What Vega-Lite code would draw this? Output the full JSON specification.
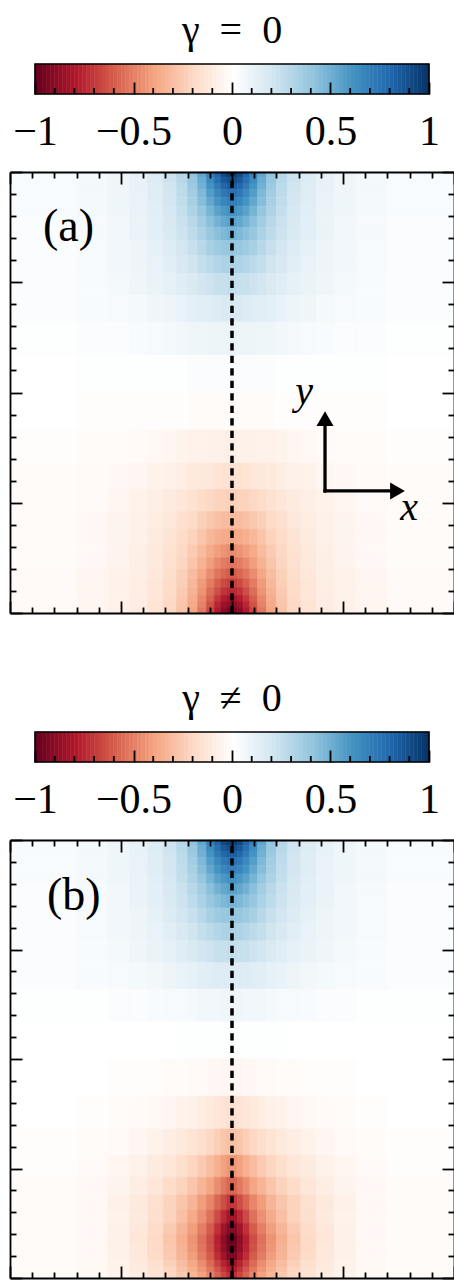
{
"$schema":"https://vega.github.io/schema/vega-lite/v6.json",
"autosize":{"type":"pad"},
"padding":{"left":9,"top":11,"right":0,"bottom":0},
"background":"white",
"config":{"view":{"stroke":null},"title":{"font":"Liberation Serif","fontSize":40,"fontWeight":"normal","color":"black","anchor":"middle"},"axis":{"grid":false}},
"datasets":{
"xs":[{"i":0,"x":-2,"x2":-1.4},{"i":1,"x":-1.4,"x2":-1.12},{"i":2,"x":-1.12,"x2":-0.92},{"i":3,"x":-0.92,"x2":-0.76},{"i":4,"x":-0.76,"x2":-0.62},{"i":5,"x":-0.62,"x2":-0.5},{"i":6,"x":-0.5,"x2":-0.4},{"i":7,"x":-0.4,"x2":-0.31},{"i":8,"x":-0.31,"x2":-0.23},{"i":9,"x":-0.23,"x2":-0.16},{"i":10,"x":-0.16,"x2":-0.1},{"i":11,"x":-0.1,"x2":-0.05},{"i":12,"x":-0.05,"x2":0},{"i":13,"x":0,"x2":0.05},{"i":14,"x":0.05,"x2":0.1},{"i":15,"x":0.1,"x2":0.16},{"i":16,"x":0.16,"x2":0.23},{"i":17,"x":0.23,"x2":0.31},{"i":18,"x":0.31,"x2":0.4},{"i":19,"x":0.4,"x2":0.5},{"i":20,"x":0.5,"x2":0.62},{"i":21,"x":0.62,"x2":0.76},{"i":22,"x":0.76,"x2":0.92},{"i":23,"x":0.92,"x2":1.12},{"i":24,"x":1.12,"x2":1.4},{"i":25,"x":1.4,"x2":2}],
"ys":[{"j":0,"y":1.95,"y2":2},{"j":1,"y":1.9,"y2":1.95},{"j":2,"y":1.84,"y2":1.9},{"j":3,"y":1.77,"y2":1.84},{"j":4,"y":1.69,"y2":1.77},{"j":5,"y":1.6,"y2":1.69},{"j":6,"y":1.5,"y2":1.6},{"j":7,"y":1.38,"y2":1.5},{"j":8,"y":1.24,"y2":1.38},{"j":9,"y":1.08,"y2":1.24},{"j":10,"y":0.88,"y2":1.08},{"j":11,"y":0.64,"y2":0.88},{"j":12,"y":0.34,"y2":0.64},{"j":13,"y":0,"y2":0.34},{"j":14,"y":-0.34,"y2":0},{"j":15,"y":-0.64,"y2":-0.34},{"j":16,"y":-0.88,"y2":-0.64},{"j":17,"y":-1.08,"y2":-0.88},{"j":18,"y":-1.24,"y2":-1.08},{"j":19,"y":-1.38,"y2":-1.24},{"j":20,"y":-1.5,"y2":-1.38},{"j":21,"y":-1.6,"y2":-1.5},{"j":22,"y":-1.69,"y2":-1.6},{"j":23,"y":-1.77,"y2":-1.69},{"j":24,"y":-1.84,"y2":-1.77},{"j":25,"y":-1.9,"y2":-1.84},{"j":26,"y":-1.95,"y2":-1.9},{"j":27,"y":-2,"y2":-1.95}],
"mt":[{"t":-0.9},{"t":-0.8},{"t":-0.7},{"t":-0.6},{"t":-0.4},{"t":-0.3},{"t":-0.2},{"t":-0.1},{"t":0.1},{"t":0.2},{"t":0.3},{"t":0.4},{"t":0.6},{"t":0.7},{"t":0.8},{"t":0.9}],
"cbar":[{"c":-1,"d":-0.98},{"c":-0.98,"d":-0.96},{"c":-0.96,"d":-0.94},{"c":-0.94,"d":-0.92},{"c":-0.92,"d":-0.9},{"c":-0.9,"d":-0.88},{"c":-0.88,"d":-0.86},{"c":-0.86,"d":-0.84},{"c":-0.84,"d":-0.82},{"c":-0.82,"d":-0.8},{"c":-0.8,"d":-0.78},{"c":-0.78,"d":-0.76},{"c":-0.76,"d":-0.74},{"c":-0.74,"d":-0.72},{"c":-0.72,"d":-0.7},{"c":-0.7,"d":-0.68},{"c":-0.68,"d":-0.66},{"c":-0.66,"d":-0.64},{"c":-0.64,"d":-0.62},{"c":-0.62,"d":-0.6},{"c":-0.6,"d":-0.58},{"c":-0.58,"d":-0.56},{"c":-0.56,"d":-0.54},{"c":-0.54,"d":-0.52},{"c":-0.52,"d":-0.5},{"c":-0.5,"d":-0.48},{"c":-0.48,"d":-0.46},{"c":-0.46,"d":-0.44},{"c":-0.44,"d":-0.42},{"c":-0.42,"d":-0.4},{"c":-0.4,"d":-0.38},{"c":-0.38,"d":-0.36},{"c":-0.36,"d":-0.34},{"c":-0.34,"d":-0.32},{"c":-0.32,"d":-0.3},{"c":-0.3,"d":-0.28},{"c":-0.28,"d":-0.26},{"c":-0.26,"d":-0.24},{"c":-0.24,"d":-0.22},{"c":-0.22,"d":-0.2},{"c":-0.2,"d":-0.18},{"c":-0.18,"d":-0.16},{"c":-0.16,"d":-0.14},{"c":-0.14,"d":-0.12},{"c":-0.12,"d":-0.1},{"c":-0.1,"d":-0.08},{"c":-0.08,"d":-0.06},{"c":-0.06,"d":-0.04},{"c":-0.04,"d":-0.02},{"c":-0.02,"d":0},{"c":0,"d":0.02},{"c":0.02,"d":0.04},{"c":0.04,"d":0.06},{"c":0.06,"d":0.08},{"c":0.08,"d":0.1},{"c":0.1,"d":0.12},{"c":0.12,"d":0.14},{"c":0.14,"d":0.16},{"c":0.16,"d":0.18},{"c":0.18,"d":0.2},{"c":0.2,"d":0.22},{"c":0.22,"d":0.24},{"c":0.24,"d":0.26},{"c":0.26,"d":0.28},{"c":0.28,"d":0.3},{"c":0.3,"d":0.32},{"c":0.32,"d":0.34},{"c":0.34,"d":0.36},{"c":0.36,"d":0.38},{"c":0.38,"d":0.4},{"c":0.4,"d":0.42},{"c":0.42,"d":0.44},{"c":0.44,"d":0.46},{"c":0.46,"d":0.48},{"c":0.48,"d":0.5},{"c":0.5,"d":0.52},{"c":0.52,"d":0.54},{"c":0.54,"d":0.56},{"c":0.56,"d":0.58},{"c":0.58,"d":0.6},{"c":0.6,"d":0.62},{"c":0.62,"d":0.64},{"c":0.64,"d":0.66},{"c":0.66,"d":0.68},{"c":0.68,"d":0.7},{"c":0.7,"d":0.72},{"c":0.72,"d":0.74},{"c":0.74,"d":0.76},{"c":0.76,"d":0.78},{"c":0.78,"d":0.8},{"c":0.8,"d":0.82},{"c":0.82,"d":0.84},{"c":0.84,"d":0.86},{"c":0.86,"d":0.88},{"c":0.88,"d":0.9},{"c":0.9,"d":0.92},{"c":0.92,"d":0.94},{"c":0.94,"d":0.96},{"c":0.96,"d":0.98},{"c":0.98,"d":1}],
"hA":[
{"i":0,"j":0,"v":0.03},{"i":1,"j":0,"v":0.05},{"i":2,"j":0,"v":0.08},{"i":3,"j":0,"v":0.11},{"i":4,"j":0,"v":0.15},{"i":5,"j":0,"v":0.21},{"i":6,"j":0,"v":0.29},{"i":7,"j":0,"v":0.4},{"i":8,"j":0,"v":0.53},{"i":9,"j":0,"v":0.67},{"i":10,"j":0,"v":0.8},{"i":11,"j":0,"v":0.9},{"i":12,"j":0,"v":0.95},{"i":13,"j":0,"v":0.95},{"i":14,"j":0,"v":0.9},{"i":15,"j":0,"v":0.8},{"i":16,"j":0,"v":0.67},{"i":17,"j":0,"v":0.53},{"i":18,"j":0,"v":0.4},{"i":19,"j":0,"v":0.29},{"i":20,"j":0,"v":0.21},{"i":21,"j":0,"v":0.15},{"i":22,"j":0,"v":0.11},{"i":23,"j":0,"v":0.08},{"i":24,"j":0,"v":0.05},{"i":25,"j":0,"v":0.03},
{"i":0,"j":1,"v":0.03},{"i":1,"j":1,"v":0.05},{"i":2,"j":1,"v":0.07},{"i":3,"j":1,"v":0.1},{"i":4,"j":1,"v":0.15},{"i":5,"j":1,"v":0.21},{"i":6,"j":1,"v":0.28},{"i":7,"j":1,"v":0.38},{"i":8,"j":1,"v":0.5},{"i":9,"j":1,"v":0.64},{"i":10,"j":1,"v":0.76},{"i":11,"j":1,"v":0.85},{"i":12,"j":1,"v":0.89},{"i":13,"j":1,"v":0.89},{"i":14,"j":1,"v":0.85},{"i":15,"j":1,"v":0.76},{"i":16,"j":1,"v":0.64},{"i":17,"j":1,"v":0.5},{"i":18,"j":1,"v":0.38},{"i":19,"j":1,"v":0.28},{"i":20,"j":1,"v":0.21},{"i":21,"j":1,"v":0.15},{"i":22,"j":1,"v":0.1},{"i":23,"j":1,"v":0.07},{"i":24,"j":1,"v":0.05},{"i":25,"j":1,"v":0.03},
{"i":0,"j":2,"v":0.03},{"i":1,"j":2,"v":0.05},{"i":2,"j":2,"v":0.07},{"i":3,"j":2,"v":0.1},{"i":4,"j":2,"v":0.14},{"i":5,"j":2,"v":0.2},{"i":6,"j":2,"v":0.27},{"i":7,"j":2,"v":0.37},{"i":8,"j":2,"v":0.48},{"i":9,"j":2,"v":0.6},{"i":10,"j":2,"v":0.71},{"i":11,"j":2,"v":0.79},{"i":12,"j":2,"v":0.83},{"i":13,"j":2,"v":0.83},{"i":14,"j":2,"v":0.79},{"i":15,"j":2,"v":0.71},{"i":16,"j":2,"v":0.6},{"i":17,"j":2,"v":0.48},{"i":18,"j":2,"v":0.37},{"i":19,"j":2,"v":0.27},{"i":20,"j":2,"v":0.2},{"i":21,"j":2,"v":0.14},{"i":22,"j":2,"v":0.1},{"i":23,"j":2,"v":0.07},{"i":24,"j":2,"v":0.05},{"i":25,"j":2,"v":0.03},
{"i":0,"j":3,"v":0.03},{"i":1,"j":3,"v":0.05},{"i":2,"j":3,"v":0.07},{"i":3,"j":3,"v":0.1},{"i":4,"j":3,"v":0.14},{"i":5,"j":3,"v":0.19},{"i":6,"j":3,"v":0.26},{"i":7,"j":3,"v":0.35},{"i":8,"j":3,"v":0.45},{"i":9,"j":3,"v":0.56},{"i":10,"j":3,"v":0.65},{"i":11,"j":3,"v":0.72},{"i":12,"j":3,"v":0.75},{"i":13,"j":3,"v":0.75},{"i":14,"j":3,"v":0.72},{"i":15,"j":3,"v":0.65},{"i":16,"j":3,"v":0.56},{"i":17,"j":3,"v":0.45},{"i":18,"j":3,"v":0.35},{"i":19,"j":3,"v":0.26},{"i":20,"j":3,"v":0.19},{"i":21,"j":3,"v":0.14},{"i":22,"j":3,"v":0.1},{"i":23,"j":3,"v":0.07},{"i":24,"j":3,"v":0.05},{"i":25,"j":3,"v":0.03},
{"i":0,"j":4,"v":0.03},{"i":1,"j":4,"v":0.05},{"i":2,"j":4,"v":0.07},{"i":3,"j":4,"v":0.1},{"i":4,"j":4,"v":0.14},{"i":5,"j":4,"v":0.19},{"i":6,"j":4,"v":0.25},{"i":7,"j":4,"v":0.33},{"i":8,"j":4,"v":0.43},{"i":9,"j":4,"v":0.52},{"i":10,"j":4,"v":0.6},{"i":11,"j":4,"v":0.66},{"i":12,"j":4,"v":0.69},{"i":13,"j":4,"v":0.69},{"i":14,"j":4,"v":0.66},{"i":15,"j":4,"v":0.6},{"i":16,"j":4,"v":0.52},{"i":17,"j":4,"v":0.43},{"i":18,"j":4,"v":0.33},{"i":19,"j":4,"v":0.25},{"i":20,"j":4,"v":0.19},{"i":21,"j":4,"v":0.14},{"i":22,"j":4,"v":0.1},{"i":23,"j":4,"v":0.07},{"i":24,"j":4,"v":0.05},{"i":25,"j":4,"v":0.03},
{"i":0,"j":5,"v":0.03},{"i":1,"j":5,"v":0.05},{"i":2,"j":5,"v":0.07},{"i":3,"j":5,"v":0.09},{"i":4,"j":5,"v":0.13},{"i":5,"j":5,"v":0.18},{"i":6,"j":5,"v":0.24},{"i":7,"j":5,"v":0.31},{"i":8,"j":5,"v":0.39},{"i":9,"j":5,"v":0.47},{"i":10,"j":5,"v":0.54},{"i":11,"j":5,"v":0.58},{"i":12,"j":5,"v":0.61},{"i":13,"j":5,"v":0.61},{"i":14,"j":5,"v":0.58},{"i":15,"j":5,"v":0.54},{"i":16,"j":5,"v":0.47},{"i":17,"j":5,"v":0.39},{"i":18,"j":5,"v":0.31},{"i":19,"j":5,"v":0.24},{"i":20,"j":5,"v":0.18},{"i":21,"j":5,"v":0.13},{"i":22,"j":5,"v":0.09},{"i":23,"j":5,"v":0.07},{"i":24,"j":5,"v":0.05},{"i":25,"j":5,"v":0.03},
{"i":0,"j":6,"v":0.02},{"i":1,"j":6,"v":0.04},{"i":2,"j":6,"v":0.06},{"i":3,"j":6,"v":0.09},{"i":4,"j":6,"v":0.12},{"i":5,"j":6,"v":0.17},{"i":6,"j":6,"v":0.22},{"i":7,"j":6,"v":0.28},{"i":8,"j":6,"v":0.35},{"i":9,"j":6,"v":0.42},{"i":10,"j":6,"v":0.48},{"i":11,"j":6,"v":0.52},{"i":12,"j":6,"v":0.54},{"i":13,"j":6,"v":0.54},{"i":14,"j":6,"v":0.52},{"i":15,"j":6,"v":0.48},{"i":16,"j":6,"v":0.42},{"i":17,"j":6,"v":0.35},{"i":18,"j":6,"v":0.28},{"i":19,"j":6,"v":0.22},{"i":20,"j":6,"v":0.17},{"i":21,"j":6,"v":0.12},{"i":22,"j":6,"v":0.09},{"i":23,"j":6,"v":0.06},{"i":24,"j":6,"v":0.04},{"i":25,"j":6,"v":0.02},
{"i":0,"j":7,"v":0.02},{"i":1,"j":7,"v":0.04},{"i":2,"j":7,"v":0.06},{"i":3,"j":7,"v":0.09},{"i":4,"j":7,"v":0.12},{"i":5,"j":7,"v":0.16},{"i":6,"j":7,"v":0.21},{"i":7,"j":7,"v":0.26},{"i":8,"j":7,"v":0.32},{"i":9,"j":7,"v":0.38},{"i":10,"j":7,"v":0.42},{"i":11,"j":7,"v":0.45},{"i":12,"j":7,"v":0.47},{"i":13,"j":7,"v":0.47},{"i":14,"j":7,"v":0.45},{"i":15,"j":7,"v":0.42},{"i":16,"j":7,"v":0.38},{"i":17,"j":7,"v":0.32},{"i":18,"j":7,"v":0.26},{"i":19,"j":7,"v":0.21},{"i":20,"j":7,"v":0.16},{"i":21,"j":7,"v":0.12},{"i":22,"j":7,"v":0.09},{"i":23,"j":7,"v":0.06},{"i":24,"j":7,"v":0.04},{"i":25,"j":7,"v":0.02},
{"i":0,"j":8,"v":0.02},{"i":1,"j":8,"v":0.04},{"i":2,"j":8,"v":0.06},{"i":3,"j":8,"v":0.08},{"i":4,"j":8,"v":0.11},{"i":5,"j":8,"v":0.15},{"i":6,"j":8,"v":0.19},{"i":7,"j":8,"v":0.23},{"i":8,"j":8,"v":0.28},{"i":9,"j":8,"v":0.33},{"i":10,"j":8,"v":0.36},{"i":11,"j":8,"v":0.38},{"i":12,"j":8,"v":0.39},{"i":13,"j":8,"v":0.39},{"i":14,"j":8,"v":0.38},{"i":15,"j":8,"v":0.36},{"i":16,"j":8,"v":0.33},{"i":17,"j":8,"v":0.28},{"i":18,"j":8,"v":0.23},{"i":19,"j":8,"v":0.19},{"i":20,"j":8,"v":0.15},{"i":21,"j":8,"v":0.11},{"i":22,"j":8,"v":0.08},{"i":23,"j":8,"v":0.06},{"i":24,"j":8,"v":0.04},{"i":25,"j":8,"v":0.02},
{"i":0,"j":9,"v":0.02},{"i":1,"j":9,"v":0.04},{"i":2,"j":9,"v":0.06},{"i":3,"j":9,"v":0.08},{"i":4,"j":9,"v":0.1},{"i":5,"j":9,"v":0.13},{"i":6,"j":9,"v":0.17},{"i":7,"j":9,"v":0.2},{"i":8,"j":9,"v":0.24},{"i":9,"j":9,"v":0.27},{"i":10,"j":9,"v":0.3},{"i":11,"j":9,"v":0.31},{"i":12,"j":9,"v":0.32},{"i":13,"j":9,"v":0.32},{"i":14,"j":9,"v":0.31},{"i":15,"j":9,"v":0.3},{"i":16,"j":9,"v":0.27},{"i":17,"j":9,"v":0.24},{"i":18,"j":9,"v":0.2},{"i":19,"j":9,"v":0.17},{"i":20,"j":9,"v":0.13},{"i":21,"j":9,"v":0.1},{"i":22,"j":9,"v":0.08},{"i":23,"j":9,"v":0.06},{"i":24,"j":9,"v":0.04},{"i":25,"j":9,"v":0.02},
{"i":0,"j":10,"v":0.02},{"i":1,"j":10,"v":0.03},{"i":2,"j":10,"v":0.05},{"i":3,"j":10,"v":0.07},{"i":4,"j":10,"v":0.09},{"i":5,"j":10,"v":0.11},{"i":6,"j":10,"v":0.14},{"i":7,"j":10,"v":0.16},{"i":8,"j":10,"v":0.19},{"i":9,"j":10,"v":0.21},{"i":10,"j":10,"v":0.23},{"i":11,"j":10,"v":0.23},{"i":12,"j":10,"v":0.24},{"i":13,"j":10,"v":0.24},{"i":14,"j":10,"v":0.23},{"i":15,"j":10,"v":0.23},{"i":16,"j":10,"v":0.21},{"i":17,"j":10,"v":0.19},{"i":18,"j":10,"v":0.16},{"i":19,"j":10,"v":0.14},{"i":20,"j":10,"v":0.11},{"i":21,"j":10,"v":0.09},{"i":22,"j":10,"v":0.07},{"i":23,"j":10,"v":0.05},{"i":24,"j":10,"v":0.03},{"i":25,"j":10,"v":0.02},
{"i":0,"j":11,"v":0.02},{"i":1,"j":11,"v":0.03},{"i":2,"j":11,"v":0.04},{"i":3,"j":11,"v":0.05},{"i":4,"j":11,"v":0.07},{"i":5,"j":11,"v":0.08},{"i":6,"j":11,"v":0.1},{"i":7,"j":11,"v":0.12},{"i":8,"j":11,"v":0.13},{"i":9,"j":11,"v":0.14},{"i":10,"j":11,"v":0.15},{"i":11,"j":11,"v":0.16},{"i":12,"j":11,"v":0.16},{"i":13,"j":11,"v":0.16},{"i":14,"j":11,"v":0.16},{"i":15,"j":11,"v":0.15},{"i":16,"j":11,"v":0.14},{"i":17,"j":11,"v":0.13},{"i":18,"j":11,"v":0.12},{"i":19,"j":11,"v":0.1},{"i":20,"j":11,"v":0.08},{"i":21,"j":11,"v":0.07},{"i":22,"j":11,"v":0.05},{"i":23,"j":11,"v":0.04},{"i":24,"j":11,"v":0.03},{"i":25,"j":11,"v":0.02},
{"i":0,"j":12,"v":0.01},{"i":1,"j":12,"v":0.02},{"i":2,"j":12,"v":0.02},{"i":3,"j":12,"v":0.03},{"i":4,"j":12,"v":0.04},{"i":5,"j":12,"v":0.05},{"i":6,"j":12,"v":0.06},{"i":7,"j":12,"v":0.07},{"i":8,"j":12,"v":0.07},{"i":9,"j":12,"v":0.08},{"i":10,"j":12,"v":0.08},{"i":11,"j":12,"v":0.08},{"i":12,"j":12,"v":0.09},{"i":13,"j":12,"v":0.09},{"i":14,"j":12,"v":0.08},{"i":15,"j":12,"v":0.08},{"i":16,"j":12,"v":0.08},{"i":17,"j":12,"v":0.07},{"i":18,"j":12,"v":0.07},{"i":19,"j":12,"v":0.06},{"i":20,"j":12,"v":0.05},{"i":21,"j":12,"v":0.04},{"i":22,"j":12,"v":0.03},{"i":23,"j":12,"v":0.02},{"i":24,"j":12,"v":0.02},{"i":25,"j":12,"v":0.01},
{"i":0,"j":13,"v":0},{"i":1,"j":13,"v":0.01},{"i":2,"j":13,"v":0.01},{"i":3,"j":13,"v":0.01},{"i":4,"j":13,"v":0.01},{"i":5,"j":13,"v":0.01},{"i":6,"j":13,"v":0.01},{"i":7,"j":13,"v":0.02},{"i":8,"j":13,"v":0.02},{"i":9,"j":13,"v":0.02},{"i":10,"j":13,"v":0.02},{"i":11,"j":13,"v":0.02},{"i":12,"j":13,"v":0.02},{"i":13,"j":13,"v":0.02},{"i":14,"j":13,"v":0.02},{"i":15,"j":13,"v":0.02},{"i":16,"j":13,"v":0.02},{"i":17,"j":13,"v":0.02},{"i":18,"j":13,"v":0.02},{"i":19,"j":13,"v":0.01},{"i":20,"j":13,"v":0.01},{"i":21,"j":13,"v":0.01},{"i":22,"j":13,"v":0.01},{"i":23,"j":13,"v":0.01},{"i":24,"j":13,"v":0.01},{"i":25,"j":13,"v":0},
{"i":0,"j":14,"v":0},{"i":1,"j":14,"v":-0.01},{"i":2,"j":14,"v":-0.01},{"i":3,"j":14,"v":-0.01},{"i":4,"j":14,"v":-0.01},{"i":5,"j":14,"v":-0.01},{"i":6,"j":14,"v":-0.01},{"i":7,"j":14,"v":-0.02},{"i":8,"j":14,"v":-0.02},{"i":9,"j":14,"v":-0.02},{"i":10,"j":14,"v":-0.02},{"i":11,"j":14,"v":-0.02},{"i":12,"j":14,"v":-0.02},{"i":13,"j":14,"v":-0.02},{"i":14,"j":14,"v":-0.02},{"i":15,"j":14,"v":-0.02},{"i":16,"j":14,"v":-0.02},{"i":17,"j":14,"v":-0.02},{"i":18,"j":14,"v":-0.02},{"i":19,"j":14,"v":-0.01},{"i":20,"j":14,"v":-0.01},{"i":21,"j":14,"v":-0.01},{"i":22,"j":14,"v":-0.01},{"i":23,"j":14,"v":-0.01},{"i":24,"j":14,"v":-0.01},{"i":25,"j":14,"v":0},
{"i":0,"j":15,"v":-0.01},{"i":1,"j":15,"v":-0.02},{"i":2,"j":15,"v":-0.02},{"i":3,"j":15,"v":-0.03},{"i":4,"j":15,"v":-0.04},{"i":5,"j":15,"v":-0.05},{"i":6,"j":15,"v":-0.06},{"i":7,"j":15,"v":-0.07},{"i":8,"j":15,"v":-0.07},{"i":9,"j":15,"v":-0.08},{"i":10,"j":15,"v":-0.08},{"i":11,"j":15,"v":-0.08},{"i":12,"j":15,"v":-0.09},{"i":13,"j":15,"v":-0.09},{"i":14,"j":15,"v":-0.08},{"i":15,"j":15,"v":-0.08},{"i":16,"j":15,"v":-0.08},{"i":17,"j":15,"v":-0.07},{"i":18,"j":15,"v":-0.07},{"i":19,"j":15,"v":-0.06},{"i":20,"j":15,"v":-0.05},{"i":21,"j":15,"v":-0.04},{"i":22,"j":15,"v":-0.03},{"i":23,"j":15,"v":-0.02},{"i":24,"j":15,"v":-0.02},{"i":25,"j":15,"v":-0.01},
{"i":0,"j":16,"v":-0.02},{"i":1,"j":16,"v":-0.03},{"i":2,"j":16,"v":-0.04},{"i":3,"j":16,"v":-0.05},{"i":4,"j":16,"v":-0.07},{"i":5,"j":16,"v":-0.08},{"i":6,"j":16,"v":-0.1},{"i":7,"j":16,"v":-0.12},{"i":8,"j":16,"v":-0.13},{"i":9,"j":16,"v":-0.14},{"i":10,"j":16,"v":-0.15},{"i":11,"j":16,"v":-0.16},{"i":12,"j":16,"v":-0.16},{"i":13,"j":16,"v":-0.16},{"i":14,"j":16,"v":-0.16},{"i":15,"j":16,"v":-0.15},{"i":16,"j":16,"v":-0.14},{"i":17,"j":16,"v":-0.13},{"i":18,"j":16,"v":-0.12},{"i":19,"j":16,"v":-0.1},{"i":20,"j":16,"v":-0.08},{"i":21,"j":16,"v":-0.07},{"i":22,"j":16,"v":-0.05},{"i":23,"j":16,"v":-0.04},{"i":24,"j":16,"v":-0.03},{"i":25,"j":16,"v":-0.02},
{"i":0,"j":17,"v":-0.02},{"i":1,"j":17,"v":-0.03},{"i":2,"j":17,"v":-0.05},{"i":3,"j":17,"v":-0.07},{"i":4,"j":17,"v":-0.09},{"i":5,"j":17,"v":-0.11},{"i":6,"j":17,"v":-0.14},{"i":7,"j":17,"v":-0.16},{"i":8,"j":17,"v":-0.19},{"i":9,"j":17,"v":-0.21},{"i":10,"j":17,"v":-0.23},{"i":11,"j":17,"v":-0.23},{"i":12,"j":17,"v":-0.24},{"i":13,"j":17,"v":-0.24},{"i":14,"j":17,"v":-0.23},{"i":15,"j":17,"v":-0.23},{"i":16,"j":17,"v":-0.21},{"i":17,"j":17,"v":-0.19},{"i":18,"j":17,"v":-0.16},{"i":19,"j":17,"v":-0.14},{"i":20,"j":17,"v":-0.11},{"i":21,"j":17,"v":-0.09},{"i":22,"j":17,"v":-0.07},{"i":23,"j":17,"v":-0.05},{"i":24,"j":17,"v":-0.03},{"i":25,"j":17,"v":-0.02},
{"i":0,"j":18,"v":-0.02},{"i":1,"j":18,"v":-0.04},{"i":2,"j":18,"v":-0.06},{"i":3,"j":18,"v":-0.08},{"i":4,"j":18,"v":-0.1},{"i":5,"j":18,"v":-0.13},{"i":6,"j":18,"v":-0.17},{"i":7,"j":18,"v":-0.2},{"i":8,"j":18,"v":-0.24},{"i":9,"j":18,"v":-0.27},{"i":10,"j":18,"v":-0.3},{"i":11,"j":18,"v":-0.31},{"i":12,"j":18,"v":-0.32},{"i":13,"j":18,"v":-0.32},{"i":14,"j":18,"v":-0.31},{"i":15,"j":18,"v":-0.3},{"i":16,"j":18,"v":-0.27},{"i":17,"j":18,"v":-0.24},{"i":18,"j":18,"v":-0.2},{"i":19,"j":18,"v":-0.17},{"i":20,"j":18,"v":-0.13},{"i":21,"j":18,"v":-0.1},{"i":22,"j":18,"v":-0.08},{"i":23,"j":18,"v":-0.06},{"i":24,"j":18,"v":-0.04},{"i":25,"j":18,"v":-0.02},
{"i":0,"j":19,"v":-0.02},{"i":1,"j":19,"v":-0.04},{"i":2,"j":19,"v":-0.06},{"i":3,"j":19,"v":-0.08},{"i":4,"j":19,"v":-0.11},{"i":5,"j":19,"v":-0.15},{"i":6,"j":19,"v":-0.19},{"i":7,"j":19,"v":-0.23},{"i":8,"j":19,"v":-0.28},{"i":9,"j":19,"v":-0.33},{"i":10,"j":19,"v":-0.36},{"i":11,"j":19,"v":-0.38},{"i":12,"j":19,"v":-0.39},{"i":13,"j":19,"v":-0.39},{"i":14,"j":19,"v":-0.38},{"i":15,"j":19,"v":-0.36},{"i":16,"j":19,"v":-0.33},{"i":17,"j":19,"v":-0.28},{"i":18,"j":19,"v":-0.23},{"i":19,"j":19,"v":-0.19},{"i":20,"j":19,"v":-0.15},{"i":21,"j":19,"v":-0.11},{"i":22,"j":19,"v":-0.08},{"i":23,"j":19,"v":-0.06},{"i":24,"j":19,"v":-0.04},{"i":25,"j":19,"v":-0.02},
{"i":0,"j":20,"v":-0.02},{"i":1,"j":20,"v":-0.04},{"i":2,"j":20,"v":-0.06},{"i":3,"j":20,"v":-0.09},{"i":4,"j":20,"v":-0.12},{"i":5,"j":20,"v":-0.16},{"i":6,"j":20,"v":-0.21},{"i":7,"j":20,"v":-0.26},{"i":8,"j":20,"v":-0.32},{"i":9,"j":20,"v":-0.38},{"i":10,"j":20,"v":-0.42},{"i":11,"j":20,"v":-0.45},{"i":12,"j":20,"v":-0.47},{"i":13,"j":20,"v":-0.47},{"i":14,"j":20,"v":-0.45},{"i":15,"j":20,"v":-0.42},{"i":16,"j":20,"v":-0.38},{"i":17,"j":20,"v":-0.32},{"i":18,"j":20,"v":-0.26},{"i":19,"j":20,"v":-0.21},{"i":20,"j":20,"v":-0.16},{"i":21,"j":20,"v":-0.12},{"i":22,"j":20,"v":-0.09},{"i":23,"j":20,"v":-0.06},{"i":24,"j":20,"v":-0.04},{"i":25,"j":20,"v":-0.02},
{"i":0,"j":21,"v":-0.02},{"i":1,"j":21,"v":-0.04},{"i":2,"j":21,"v":-0.06},{"i":3,"j":21,"v":-0.09},{"i":4,"j":21,"v":-0.12},{"i":5,"j":21,"v":-0.17},{"i":6,"j":21,"v":-0.22},{"i":7,"j":21,"v":-0.28},{"i":8,"j":21,"v":-0.35},{"i":9,"j":21,"v":-0.42},{"i":10,"j":21,"v":-0.48},{"i":11,"j":21,"v":-0.52},{"i":12,"j":21,"v":-0.54},{"i":13,"j":21,"v":-0.54},{"i":14,"j":21,"v":-0.52},{"i":15,"j":21,"v":-0.48},{"i":16,"j":21,"v":-0.42},{"i":17,"j":21,"v":-0.35},{"i":18,"j":21,"v":-0.28},{"i":19,"j":21,"v":-0.22},{"i":20,"j":21,"v":-0.17},{"i":21,"j":21,"v":-0.12},{"i":22,"j":21,"v":-0.09},{"i":23,"j":21,"v":-0.06},{"i":24,"j":21,"v":-0.04},{"i":25,"j":21,"v":-0.02},
{"i":0,"j":22,"v":-0.03},{"i":1,"j":22,"v":-0.05},{"i":2,"j":22,"v":-0.07},{"i":3,"j":22,"v":-0.09},{"i":4,"j":22,"v":-0.13},{"i":5,"j":22,"v":-0.18},{"i":6,"j":22,"v":-0.24},{"i":7,"j":22,"v":-0.31},{"i":8,"j":22,"v":-0.39},{"i":9,"j":22,"v":-0.47},{"i":10,"j":22,"v":-0.54},{"i":11,"j":22,"v":-0.58},{"i":12,"j":22,"v":-0.61},{"i":13,"j":22,"v":-0.61},{"i":14,"j":22,"v":-0.58},{"i":15,"j":22,"v":-0.54},{"i":16,"j":22,"v":-0.47},{"i":17,"j":22,"v":-0.39},{"i":18,"j":22,"v":-0.31},{"i":19,"j":22,"v":-0.24},{"i":20,"j":22,"v":-0.18},{"i":21,"j":22,"v":-0.13},{"i":22,"j":22,"v":-0.09},{"i":23,"j":22,"v":-0.07},{"i":24,"j":22,"v":-0.05},{"i":25,"j":22,"v":-0.03},
{"i":0,"j":23,"v":-0.03},{"i":1,"j":23,"v":-0.05},{"i":2,"j":23,"v":-0.07},{"i":3,"j":23,"v":-0.1},{"i":4,"j":23,"v":-0.14},{"i":5,"j":23,"v":-0.19},{"i":6,"j":23,"v":-0.25},{"i":7,"j":23,"v":-0.33},{"i":8,"j":23,"v":-0.43},{"i":9,"j":23,"v":-0.52},{"i":10,"j":23,"v":-0.6},{"i":11,"j":23,"v":-0.66},{"i":12,"j":23,"v":-0.69},{"i":13,"j":23,"v":-0.69},{"i":14,"j":23,"v":-0.66},{"i":15,"j":23,"v":-0.6},{"i":16,"j":23,"v":-0.52},{"i":17,"j":23,"v":-0.43},{"i":18,"j":23,"v":-0.33},{"i":19,"j":23,"v":-0.25},{"i":20,"j":23,"v":-0.19},{"i":21,"j":23,"v":-0.14},{"i":22,"j":23,"v":-0.1},{"i":23,"j":23,"v":-0.07},{"i":24,"j":23,"v":-0.05},{"i":25,"j":23,"v":-0.03},
{"i":0,"j":24,"v":-0.03},{"i":1,"j":24,"v":-0.05},{"i":2,"j":24,"v":-0.07},{"i":3,"j":24,"v":-0.1},{"i":4,"j":24,"v":-0.14},{"i":5,"j":24,"v":-0.19},{"i":6,"j":24,"v":-0.26},{"i":7,"j":24,"v":-0.35},{"i":8,"j":24,"v":-0.45},{"i":9,"j":24,"v":-0.56},{"i":10,"j":24,"v":-0.65},{"i":11,"j":24,"v":-0.72},{"i":12,"j":24,"v":-0.75},{"i":13,"j":24,"v":-0.75},{"i":14,"j":24,"v":-0.72},{"i":15,"j":24,"v":-0.65},{"i":16,"j":24,"v":-0.56},{"i":17,"j":24,"v":-0.45},{"i":18,"j":24,"v":-0.35},{"i":19,"j":24,"v":-0.26},{"i":20,"j":24,"v":-0.19},{"i":21,"j":24,"v":-0.14},{"i":22,"j":24,"v":-0.1},{"i":23,"j":24,"v":-0.07},{"i":24,"j":24,"v":-0.05},{"i":25,"j":24,"v":-0.03},
{"i":0,"j":25,"v":-0.03},{"i":1,"j":25,"v":-0.05},{"i":2,"j":25,"v":-0.07},{"i":3,"j":25,"v":-0.1},{"i":4,"j":25,"v":-0.14},{"i":5,"j":25,"v":-0.2},{"i":6,"j":25,"v":-0.27},{"i":7,"j":25,"v":-0.37},{"i":8,"j":25,"v":-0.48},{"i":9,"j":25,"v":-0.6},{"i":10,"j":25,"v":-0.71},{"i":11,"j":25,"v":-0.79},{"i":12,"j":25,"v":-0.83},{"i":13,"j":25,"v":-0.83},{"i":14,"j":25,"v":-0.79},{"i":15,"j":25,"v":-0.71},{"i":16,"j":25,"v":-0.6},{"i":17,"j":25,"v":-0.48},{"i":18,"j":25,"v":-0.37},{"i":19,"j":25,"v":-0.27},{"i":20,"j":25,"v":-0.2},{"i":21,"j":25,"v":-0.14},{"i":22,"j":25,"v":-0.1},{"i":23,"j":25,"v":-0.07},{"i":24,"j":25,"v":-0.05},{"i":25,"j":25,"v":-0.03},
{"i":0,"j":26,"v":-0.03},{"i":1,"j":26,"v":-0.05},{"i":2,"j":26,"v":-0.07},{"i":3,"j":26,"v":-0.1},{"i":4,"j":26,"v":-0.15},{"i":5,"j":26,"v":-0.21},{"i":6,"j":26,"v":-0.28},{"i":7,"j":26,"v":-0.38},{"i":8,"j":26,"v":-0.5},{"i":9,"j":26,"v":-0.64},{"i":10,"j":26,"v":-0.76},{"i":11,"j":26,"v":-0.85},{"i":12,"j":26,"v":-0.89},{"i":13,"j":26,"v":-0.89},{"i":14,"j":26,"v":-0.85},{"i":15,"j":26,"v":-0.76},{"i":16,"j":26,"v":-0.64},{"i":17,"j":26,"v":-0.5},{"i":18,"j":26,"v":-0.38},{"i":19,"j":26,"v":-0.28},{"i":20,"j":26,"v":-0.21},{"i":21,"j":26,"v":-0.15},{"i":22,"j":26,"v":-0.1},{"i":23,"j":26,"v":-0.07},{"i":24,"j":26,"v":-0.05},{"i":25,"j":26,"v":-0.03},
{"i":0,"j":27,"v":-0.03},{"i":1,"j":27,"v":-0.05},{"i":2,"j":27,"v":-0.08},{"i":3,"j":27,"v":-0.11},{"i":4,"j":27,"v":-0.15},{"i":5,"j":27,"v":-0.21},{"i":6,"j":27,"v":-0.29},{"i":7,"j":27,"v":-0.4},{"i":8,"j":27,"v":-0.53},{"i":9,"j":27,"v":-0.67},{"i":10,"j":27,"v":-0.8},{"i":11,"j":27,"v":-0.9},{"i":12,"j":27,"v":-0.95},{"i":13,"j":27,"v":-0.95},{"i":14,"j":27,"v":-0.9},{"i":15,"j":27,"v":-0.8},{"i":16,"j":27,"v":-0.67},{"i":17,"j":27,"v":-0.53},{"i":18,"j":27,"v":-0.4},{"i":19,"j":27,"v":-0.29},{"i":20,"j":27,"v":-0.21},{"i":21,"j":27,"v":-0.15},{"i":22,"j":27,"v":-0.11},{"i":23,"j":27,"v":-0.08},{"i":24,"j":27,"v":-0.05},{"i":25,"j":27,"v":-0.03}
],
"hB":[
{"i":0,"j":0,"v":0.03},{"i":1,"j":0,"v":0.05},{"i":2,"j":0,"v":0.08},{"i":3,"j":0,"v":0.11},{"i":4,"j":0,"v":0.15},{"i":5,"j":0,"v":0.21},{"i":6,"j":0,"v":0.29},{"i":7,"j":0,"v":0.4},{"i":8,"j":0,"v":0.53},{"i":9,"j":0,"v":0.67},{"i":10,"j":0,"v":0.8},{"i":11,"j":0,"v":0.9},{"i":12,"j":0,"v":0.95},{"i":13,"j":0,"v":0.95},{"i":14,"j":0,"v":0.9},{"i":15,"j":0,"v":0.8},{"i":16,"j":0,"v":0.67},{"i":17,"j":0,"v":0.53},{"i":18,"j":0,"v":0.4},{"i":19,"j":0,"v":0.29},{"i":20,"j":0,"v":0.21},{"i":21,"j":0,"v":0.15},{"i":22,"j":0,"v":0.11},{"i":23,"j":0,"v":0.08},{"i":24,"j":0,"v":0.05},{"i":25,"j":0,"v":0.03},
{"i":0,"j":1,"v":0.03},{"i":1,"j":1,"v":0.05},{"i":2,"j":1,"v":0.07},{"i":3,"j":1,"v":0.1},{"i":4,"j":1,"v":0.15},{"i":5,"j":1,"v":0.21},{"i":6,"j":1,"v":0.28},{"i":7,"j":1,"v":0.38},{"i":8,"j":1,"v":0.5},{"i":9,"j":1,"v":0.64},{"i":10,"j":1,"v":0.76},{"i":11,"j":1,"v":0.85},{"i":12,"j":1,"v":0.89},{"i":13,"j":1,"v":0.89},{"i":14,"j":1,"v":0.85},{"i":15,"j":1,"v":0.76},{"i":16,"j":1,"v":0.64},{"i":17,"j":1,"v":0.5},{"i":18,"j":1,"v":0.38},{"i":19,"j":1,"v":0.28},{"i":20,"j":1,"v":0.21},{"i":21,"j":1,"v":0.15},{"i":22,"j":1,"v":0.1},{"i":23,"j":1,"v":0.07},{"i":24,"j":1,"v":0.05},{"i":25,"j":1,"v":0.03},
{"i":0,"j":2,"v":0.03},{"i":1,"j":2,"v":0.05},{"i":2,"j":2,"v":0.07},{"i":3,"j":2,"v":0.1},{"i":4,"j":2,"v":0.14},{"i":5,"j":2,"v":0.2},{"i":6,"j":2,"v":0.27},{"i":7,"j":2,"v":0.37},{"i":8,"j":2,"v":0.48},{"i":9,"j":2,"v":0.6},{"i":10,"j":2,"v":0.71},{"i":11,"j":2,"v":0.79},{"i":12,"j":2,"v":0.83},{"i":13,"j":2,"v":0.83},{"i":14,"j":2,"v":0.79},{"i":15,"j":2,"v":0.71},{"i":16,"j":2,"v":0.6},{"i":17,"j":2,"v":0.48},{"i":18,"j":2,"v":0.37},{"i":19,"j":2,"v":0.27},{"i":20,"j":2,"v":0.2},{"i":21,"j":2,"v":0.14},{"i":22,"j":2,"v":0.1},{"i":23,"j":2,"v":0.07},{"i":24,"j":2,"v":0.05},{"i":25,"j":2,"v":0.03},
{"i":0,"j":3,"v":0.03},{"i":1,"j":3,"v":0.05},{"i":2,"j":3,"v":0.07},{"i":3,"j":3,"v":0.1},{"i":4,"j":3,"v":0.14},{"i":5,"j":3,"v":0.19},{"i":6,"j":3,"v":0.26},{"i":7,"j":3,"v":0.35},{"i":8,"j":3,"v":0.45},{"i":9,"j":3,"v":0.56},{"i":10,"j":3,"v":0.65},{"i":11,"j":3,"v":0.72},{"i":12,"j":3,"v":0.75},{"i":13,"j":3,"v":0.75},{"i":14,"j":3,"v":0.72},{"i":15,"j":3,"v":0.65},{"i":16,"j":3,"v":0.56},{"i":17,"j":3,"v":0.45},{"i":18,"j":3,"v":0.35},{"i":19,"j":3,"v":0.26},{"i":20,"j":3,"v":0.19},{"i":21,"j":3,"v":0.14},{"i":22,"j":3,"v":0.1},{"i":23,"j":3,"v":0.07},{"i":24,"j":3,"v":0.05},{"i":25,"j":3,"v":0.03},
{"i":0,"j":4,"v":0.03},{"i":1,"j":4,"v":0.05},{"i":2,"j":4,"v":0.07},{"i":3,"j":4,"v":0.1},{"i":4,"j":4,"v":0.14},{"i":5,"j":4,"v":0.19},{"i":6,"j":4,"v":0.25},{"i":7,"j":4,"v":0.33},{"i":8,"j":4,"v":0.43},{"i":9,"j":4,"v":0.52},{"i":10,"j":4,"v":0.6},{"i":11,"j":4,"v":0.66},{"i":12,"j":4,"v":0.69},{"i":13,"j":4,"v":0.69},{"i":14,"j":4,"v":0.66},{"i":15,"j":4,"v":0.6},{"i":16,"j":4,"v":0.52},{"i":17,"j":4,"v":0.43},{"i":18,"j":4,"v":0.33},{"i":19,"j":4,"v":0.25},{"i":20,"j":4,"v":0.19},{"i":21,"j":4,"v":0.14},{"i":22,"j":4,"v":0.1},{"i":23,"j":4,"v":0.07},{"i":24,"j":4,"v":0.05},{"i":25,"j":4,"v":0.03},
{"i":0,"j":5,"v":0.03},{"i":1,"j":5,"v":0.05},{"i":2,"j":5,"v":0.07},{"i":3,"j":5,"v":0.09},{"i":4,"j":5,"v":0.13},{"i":5,"j":5,"v":0.18},{"i":6,"j":5,"v":0.24},{"i":7,"j":5,"v":0.31},{"i":8,"j":5,"v":0.39},{"i":9,"j":5,"v":0.47},{"i":10,"j":5,"v":0.54},{"i":11,"j":5,"v":0.58},{"i":12,"j":5,"v":0.61},{"i":13,"j":5,"v":0.61},{"i":14,"j":5,"v":0.58},{"i":15,"j":5,"v":0.54},{"i":16,"j":5,"v":0.47},{"i":17,"j":5,"v":0.39},{"i":18,"j":5,"v":0.31},{"i":19,"j":5,"v":0.24},{"i":20,"j":5,"v":0.18},{"i":21,"j":5,"v":0.13},{"i":22,"j":5,"v":0.09},{"i":23,"j":5,"v":0.07},{"i":24,"j":5,"v":0.05},{"i":25,"j":5,"v":0.03},
{"i":0,"j":6,"v":0.02},{"i":1,"j":6,"v":0.04},{"i":2,"j":6,"v":0.06},{"i":3,"j":6,"v":0.09},{"i":4,"j":6,"v":0.12},{"i":5,"j":6,"v":0.17},{"i":6,"j":6,"v":0.22},{"i":7,"j":6,"v":0.28},{"i":8,"j":6,"v":0.35},{"i":9,"j":6,"v":0.42},{"i":10,"j":6,"v":0.48},{"i":11,"j":6,"v":0.52},{"i":12,"j":6,"v":0.54},{"i":13,"j":6,"v":0.54},{"i":14,"j":6,"v":0.52},{"i":15,"j":6,"v":0.48},{"i":16,"j":6,"v":0.42},{"i":17,"j":6,"v":0.35},{"i":18,"j":6,"v":0.28},{"i":19,"j":6,"v":0.22},{"i":20,"j":6,"v":0.17},{"i":21,"j":6,"v":0.12},{"i":22,"j":6,"v":0.09},{"i":23,"j":6,"v":0.06},{"i":24,"j":6,"v":0.04},{"i":25,"j":6,"v":0.02},
{"i":0,"j":7,"v":0.02},{"i":1,"j":7,"v":0.04},{"i":2,"j":7,"v":0.06},{"i":3,"j":7,"v":0.09},{"i":4,"j":7,"v":0.12},{"i":5,"j":7,"v":0.16},{"i":6,"j":7,"v":0.21},{"i":7,"j":7,"v":0.26},{"i":8,"j":7,"v":0.32},{"i":9,"j":7,"v":0.38},{"i":10,"j":7,"v":0.42},{"i":11,"j":7,"v":0.45},{"i":12,"j":7,"v":0.47},{"i":13,"j":7,"v":0.47},{"i":14,"j":7,"v":0.45},{"i":15,"j":7,"v":0.42},{"i":16,"j":7,"v":0.38},{"i":17,"j":7,"v":0.32},{"i":18,"j":7,"v":0.26},{"i":19,"j":7,"v":0.21},{"i":20,"j":7,"v":0.16},{"i":21,"j":7,"v":0.12},{"i":22,"j":7,"v":0.09},{"i":23,"j":7,"v":0.06},{"i":24,"j":7,"v":0.04},{"i":25,"j":7,"v":0.02},
{"i":0,"j":8,"v":0.02},{"i":1,"j":8,"v":0.04},{"i":2,"j":8,"v":0.06},{"i":3,"j":8,"v":0.08},{"i":4,"j":8,"v":0.11},{"i":5,"j":8,"v":0.15},{"i":6,"j":8,"v":0.19},{"i":7,"j":8,"v":0.23},{"i":8,"j":8,"v":0.28},{"i":9,"j":8,"v":0.33},{"i":10,"j":8,"v":0.36},{"i":11,"j":8,"v":0.38},{"i":12,"j":8,"v":0.39},{"i":13,"j":8,"v":0.39},{"i":14,"j":8,"v":0.38},{"i":15,"j":8,"v":0.36},{"i":16,"j":8,"v":0.33},{"i":17,"j":8,"v":0.28},{"i":18,"j":8,"v":0.23},{"i":19,"j":8,"v":0.19},{"i":20,"j":8,"v":0.15},{"i":21,"j":8,"v":0.11},{"i":22,"j":8,"v":0.08},{"i":23,"j":8,"v":0.06},{"i":24,"j":8,"v":0.04},{"i":25,"j":8,"v":0.02},
{"i":0,"j":9,"v":0.02},{"i":1,"j":9,"v":0.04},{"i":2,"j":9,"v":0.06},{"i":3,"j":9,"v":0.08},{"i":4,"j":9,"v":0.1},{"i":5,"j":9,"v":0.13},{"i":6,"j":9,"v":0.17},{"i":7,"j":9,"v":0.2},{"i":8,"j":9,"v":0.24},{"i":9,"j":9,"v":0.27},{"i":10,"j":9,"v":0.3},{"i":11,"j":9,"v":0.31},{"i":12,"j":9,"v":0.32},{"i":13,"j":9,"v":0.32},{"i":14,"j":9,"v":0.31},{"i":15,"j":9,"v":0.3},{"i":16,"j":9,"v":0.27},{"i":17,"j":9,"v":0.24},{"i":18,"j":9,"v":0.2},{"i":19,"j":9,"v":0.17},{"i":20,"j":9,"v":0.13},{"i":21,"j":9,"v":0.1},{"i":22,"j":9,"v":0.08},{"i":23,"j":9,"v":0.06},{"i":24,"j":9,"v":0.04},{"i":25,"j":9,"v":0.02},
{"i":0,"j":10,"v":0.02},{"i":1,"j":10,"v":0.03},{"i":2,"j":10,"v":0.05},{"i":3,"j":10,"v":0.07},{"i":4,"j":10,"v":0.09},{"i":5,"j":10,"v":0.11},{"i":6,"j":10,"v":0.14},{"i":7,"j":10,"v":0.16},{"i":8,"j":10,"v":0.19},{"i":9,"j":10,"v":0.21},{"i":10,"j":10,"v":0.23},{"i":11,"j":10,"v":0.23},{"i":12,"j":10,"v":0.24},{"i":13,"j":10,"v":0.24},{"i":14,"j":10,"v":0.23},{"i":15,"j":10,"v":0.23},{"i":16,"j":10,"v":0.21},{"i":17,"j":10,"v":0.19},{"i":18,"j":10,"v":0.16},{"i":19,"j":10,"v":0.14},{"i":20,"j":10,"v":0.11},{"i":21,"j":10,"v":0.09},{"i":22,"j":10,"v":0.07},{"i":23,"j":10,"v":0.05},{"i":24,"j":10,"v":0.03},{"i":25,"j":10,"v":0.02},
{"i":0,"j":11,"v":0.02},{"i":1,"j":11,"v":0.03},{"i":2,"j":11,"v":0.04},{"i":3,"j":11,"v":0.05},{"i":4,"j":11,"v":0.06},{"i":5,"j":11,"v":0.08},{"i":6,"j":11,"v":0.1},{"i":7,"j":11,"v":0.11},{"i":8,"j":11,"v":0.13},{"i":9,"j":11,"v":0.14},{"i":10,"j":11,"v":0.15},{"i":11,"j":11,"v":0.15},{"i":12,"j":11,"v":0.15},{"i":13,"j":11,"v":0.15},{"i":14,"j":11,"v":0.15},{"i":15,"j":11,"v":0.15},{"i":16,"j":11,"v":0.14},{"i":17,"j":11,"v":0.13},{"i":18,"j":11,"v":0.11},{"i":19,"j":11,"v":0.1},{"i":20,"j":11,"v":0.08},{"i":21,"j":11,"v":0.06},{"i":22,"j":11,"v":0.05},{"i":23,"j":11,"v":0.04},{"i":24,"j":11,"v":0.03},{"i":25,"j":11,"v":0.02},
{"i":0,"j":12,"v":0.01},{"i":1,"j":12,"v":0.01},{"i":2,"j":12,"v":0.02},{"i":3,"j":12,"v":0.02},{"i":4,"j":12,"v":0.03},{"i":5,"j":12,"v":0.04},{"i":6,"j":12,"v":0.04},{"i":7,"j":12,"v":0.05},{"i":8,"j":12,"v":0.06},{"i":9,"j":12,"v":0.06},{"i":10,"j":12,"v":0.06},{"i":11,"j":12,"v":0.07},{"i":12,"j":12,"v":0.07},{"i":13,"j":12,"v":0.07},{"i":14,"j":12,"v":0.07},{"i":15,"j":12,"v":0.06},{"i":16,"j":12,"v":0.06},{"i":17,"j":12,"v":0.06},{"i":18,"j":12,"v":0.05},{"i":19,"j":12,"v":0.04},{"i":20,"j":12,"v":0.04},{"i":21,"j":12,"v":0.03},{"i":22,"j":12,"v":0.02},{"i":23,"j":12,"v":0.02},{"i":24,"j":12,"v":0.01},{"i":25,"j":12,"v":0.01},
{"i":0,"j":13,"v":0},{"i":1,"j":13,"v":0},{"i":2,"j":13,"v":0},{"i":3,"j":13,"v":0},{"i":4,"j":13,"v":0},{"i":5,"j":13,"v":0},{"i":6,"j":13,"v":0.01},{"i":7,"j":13,"v":0.01},{"i":8,"j":13,"v":0.01},{"i":9,"j":13,"v":0.01},{"i":10,"j":13,"v":0.01},{"i":11,"j":13,"v":0.01},{"i":12,"j":13,"v":0.01},{"i":13,"j":13,"v":0.01},{"i":14,"j":13,"v":0.01},{"i":15,"j":13,"v":0.01},{"i":16,"j":13,"v":0.01},{"i":17,"j":13,"v":0.01},{"i":18,"j":13,"v":0.01},{"i":19,"j":13,"v":0.01},{"i":20,"j":13,"v":0},{"i":21,"j":13,"v":0},{"i":22,"j":13,"v":0},{"i":23,"j":13,"v":0},{"i":24,"j":13,"v":0},{"i":25,"j":13,"v":0},
{"i":0,"j":14,"v":0},{"i":1,"j":14,"v":0},{"i":2,"j":14,"v":-0.01},{"i":3,"j":14,"v":-0.01},{"i":4,"j":14,"v":-0.01},{"i":5,"j":14,"v":-0.02},{"i":6,"j":14,"v":-0.02},{"i":7,"j":14,"v":-0.03},{"i":8,"j":14,"v":-0.03},{"i":9,"j":14,"v":-0.04},{"i":10,"j":14,"v":-0.04},{"i":11,"j":14,"v":-0.05},{"i":12,"j":14,"v":-0.05},{"i":13,"j":14,"v":-0.05},{"i":14,"j":14,"v":-0.05},{"i":15,"j":14,"v":-0.04},{"i":16,"j":14,"v":-0.04},{"i":17,"j":14,"v":-0.03},{"i":18,"j":14,"v":-0.03},{"i":19,"j":14,"v":-0.02},{"i":20,"j":14,"v":-0.02},{"i":21,"j":14,"v":-0.01},{"i":22,"j":14,"v":-0.01},{"i":23,"j":14,"v":-0.01},{"i":24,"j":14,"v":0},{"i":25,"j":14,"v":0},
{"i":0,"j":15,"v":0},{"i":1,"j":15,"v":-0.01},{"i":2,"j":15,"v":-0.02},{"i":3,"j":15,"v":-0.03},{"i":4,"j":15,"v":-0.04},{"i":5,"j":15,"v":-0.05},{"i":6,"j":15,"v":-0.07},{"i":7,"j":15,"v":-0.08},{"i":8,"j":15,"v":-0.1},{"i":9,"j":15,"v":-0.12},{"i":10,"j":15,"v":-0.14},{"i":11,"j":15,"v":-0.15},{"i":12,"j":15,"v":-0.17},{"i":13,"j":15,"v":-0.17},{"i":14,"j":15,"v":-0.15},{"i":15,"j":15,"v":-0.14},{"i":16,"j":15,"v":-0.12},{"i":17,"j":15,"v":-0.1},{"i":18,"j":15,"v":-0.08},{"i":19,"j":15,"v":-0.07},{"i":20,"j":15,"v":-0.05},{"i":21,"j":15,"v":-0.04},{"i":22,"j":15,"v":-0.03},{"i":23,"j":15,"v":-0.02},{"i":24,"j":15,"v":-0.01},{"i":25,"j":15,"v":0},
{"i":0,"j":16,"v":-0.01},{"i":1,"j":16,"v":-0.02},{"i":2,"j":16,"v":-0.03},{"i":3,"j":16,"v":-0.05},{"i":4,"j":16,"v":-0.07},{"i":5,"j":16,"v":-0.1},{"i":6,"j":16,"v":-0.12},{"i":7,"j":16,"v":-0.15},{"i":8,"j":16,"v":-0.18},{"i":9,"j":16,"v":-0.21},{"i":10,"j":16,"v":-0.25},{"i":11,"j":16,"v":-0.28},{"i":12,"j":16,"v":-0.3},{"i":13,"j":16,"v":-0.3},{"i":14,"j":16,"v":-0.28},{"i":15,"j":16,"v":-0.25},{"i":16,"j":16,"v":-0.21},{"i":17,"j":16,"v":-0.18},{"i":18,"j":16,"v":-0.15},{"i":19,"j":16,"v":-0.12},{"i":20,"j":16,"v":-0.1},{"i":21,"j":16,"v":-0.07},{"i":22,"j":16,"v":-0.05},{"i":23,"j":16,"v":-0.03},{"i":24,"j":16,"v":-0.02},{"i":25,"j":16,"v":-0.01},
{"i":0,"j":17,"v":-0.01},{"i":1,"j":17,"v":-0.03},{"i":2,"j":17,"v":-0.05},{"i":3,"j":17,"v":-0.07},{"i":4,"j":17,"v":-0.11},{"i":5,"j":17,"v":-0.14},{"i":6,"j":17,"v":-0.18},{"i":7,"j":17,"v":-0.22},{"i":8,"j":17,"v":-0.26},{"i":9,"j":17,"v":-0.31},{"i":10,"j":17,"v":-0.36},{"i":11,"j":17,"v":-0.41},{"i":12,"j":17,"v":-0.44},{"i":13,"j":17,"v":-0.44},{"i":14,"j":17,"v":-0.41},{"i":15,"j":17,"v":-0.36},{"i":16,"j":17,"v":-0.31},{"i":17,"j":17,"v":-0.26},{"i":18,"j":17,"v":-0.22},{"i":19,"j":17,"v":-0.18},{"i":20,"j":17,"v":-0.14},{"i":21,"j":17,"v":-0.11},{"i":22,"j":17,"v":-0.07},{"i":23,"j":17,"v":-0.05},{"i":24,"j":17,"v":-0.03},{"i":25,"j":17,"v":-0.01},
{"i":0,"j":18,"v":-0.02},{"i":1,"j":18,"v":-0.04},{"i":2,"j":18,"v":-0.06},{"i":3,"j":18,"v":-0.1},{"i":4,"j":18,"v":-0.14},{"i":5,"j":18,"v":-0.19},{"i":6,"j":18,"v":-0.23},{"i":7,"j":18,"v":-0.28},{"i":8,"j":18,"v":-0.34},{"i":9,"j":18,"v":-0.4},{"i":10,"j":18,"v":-0.47},{"i":11,"j":18,"v":-0.53},{"i":12,"j":18,"v":-0.58},{"i":13,"j":18,"v":-0.58},{"i":14,"j":18,"v":-0.53},{"i":15,"j":18,"v":-0.47},{"i":16,"j":18,"v":-0.4},{"i":17,"j":18,"v":-0.34},{"i":18,"j":18,"v":-0.28},{"i":19,"j":18,"v":-0.23},{"i":20,"j":18,"v":-0.19},{"i":21,"j":18,"v":-0.14},{"i":22,"j":18,"v":-0.1},{"i":23,"j":18,"v":-0.06},{"i":24,"j":18,"v":-0.04},{"i":25,"j":18,"v":-0.02},
{"i":0,"j":19,"v":-0.02},{"i":1,"j":19,"v":-0.04},{"i":2,"j":19,"v":-0.08},{"i":3,"j":19,"v":-0.12},{"i":4,"j":19,"v":-0.17},{"i":5,"j":19,"v":-0.23},{"i":6,"j":19,"v":-0.28},{"i":7,"j":19,"v":-0.34},{"i":8,"j":19,"v":-0.42},{"i":9,"j":19,"v":-0.49},{"i":10,"j":19,"v":-0.58},{"i":11,"j":19,"v":-0.65},{"i":12,"j":19,"v":-0.71},{"i":13,"j":19,"v":-0.71},{"i":14,"j":19,"v":-0.65},{"i":15,"j":19,"v":-0.58},{"i":16,"j":19,"v":-0.49},{"i":17,"j":19,"v":-0.42},{"i":18,"j":19,"v":-0.34},{"i":19,"j":19,"v":-0.28},{"i":20,"j":19,"v":-0.23},{"i":21,"j":19,"v":-0.17},{"i":22,"j":19,"v":-0.12},{"i":23,"j":19,"v":-0.08},{"i":24,"j":19,"v":-0.04},{"i":25,"j":19,"v":-0.02},
{"i":0,"j":20,"v":-0.02},{"i":1,"j":20,"v":-0.04},{"i":2,"j":20,"v":-0.07},{"i":3,"j":20,"v":-0.11},{"i":4,"j":20,"v":-0.17},{"i":5,"j":20,"v":-0.23},{"i":6,"j":20,"v":-0.3},{"i":7,"j":20,"v":-0.38},{"i":8,"j":20,"v":-0.46},{"i":9,"j":20,"v":-0.55},{"i":10,"j":20,"v":-0.66},{"i":11,"j":20,"v":-0.75},{"i":12,"j":20,"v":-0.83},{"i":13,"j":20,"v":-0.83},{"i":14,"j":20,"v":-0.75},{"i":15,"j":20,"v":-0.66},{"i":16,"j":20,"v":-0.55},{"i":17,"j":20,"v":-0.46},{"i":18,"j":20,"v":-0.38},{"i":19,"j":20,"v":-0.3},{"i":20,"j":20,"v":-0.23},{"i":21,"j":20,"v":-0.17},{"i":22,"j":20,"v":-0.11},{"i":23,"j":20,"v":-0.07},{"i":24,"j":20,"v":-0.04},{"i":25,"j":20,"v":-0.02},
{"i":0,"j":21,"v":-0.02},{"i":1,"j":21,"v":-0.04},{"i":2,"j":21,"v":-0.08},{"i":3,"j":21,"v":-0.13},{"i":4,"j":21,"v":-0.19},{"i":5,"j":21,"v":-0.26},{"i":6,"j":21,"v":-0.34},{"i":7,"j":21,"v":-0.42},{"i":8,"j":21,"v":-0.51},{"i":9,"j":21,"v":-0.61},{"i":10,"j":21,"v":-0.73},{"i":11,"j":21,"v":-0.84},{"i":12,"j":21,"v":-0.92},{"i":13,"j":21,"v":-0.92},{"i":14,"j":21,"v":-0.84},{"i":15,"j":21,"v":-0.73},{"i":16,"j":21,"v":-0.61},{"i":17,"j":21,"v":-0.51},{"i":18,"j":21,"v":-0.42},{"i":19,"j":21,"v":-0.34},{"i":20,"j":21,"v":-0.26},{"i":21,"j":21,"v":-0.19},{"i":22,"j":21,"v":-0.13},{"i":23,"j":21,"v":-0.08},{"i":24,"j":21,"v":-0.04},{"i":25,"j":21,"v":-0.02},
{"i":0,"j":22,"v":-0.02},{"i":1,"j":22,"v":-0.04},{"i":2,"j":22,"v":-0.08},{"i":3,"j":22,"v":-0.14},{"i":4,"j":22,"v":-0.2},{"i":5,"j":22,"v":-0.28},{"i":6,"j":22,"v":-0.36},{"i":7,"j":22,"v":-0.45},{"i":8,"j":22,"v":-0.55},{"i":9,"j":22,"v":-0.65},{"i":10,"j":22,"v":-0.78},{"i":11,"j":22,"v":-0.89},{"i":12,"j":22,"v":-0.98},{"i":13,"j":22,"v":-0.98},{"i":14,"j":22,"v":-0.89},{"i":15,"j":22,"v":-0.78},{"i":16,"j":22,"v":-0.65},{"i":17,"j":22,"v":-0.55},{"i":18,"j":22,"v":-0.45},{"i":19,"j":22,"v":-0.36},{"i":20,"j":22,"v":-0.28},{"i":21,"j":22,"v":-0.2},{"i":22,"j":22,"v":-0.14},{"i":23,"j":22,"v":-0.08},{"i":24,"j":22,"v":-0.04},{"i":25,"j":22,"v":-0.02},
{"i":0,"j":23,"v":-0.02},{"i":1,"j":23,"v":-0.04},{"i":2,"j":23,"v":-0.08},{"i":3,"j":23,"v":-0.13},{"i":4,"j":23,"v":-0.2},{"i":5,"j":23,"v":-0.27},{"i":6,"j":23,"v":-0.35},{"i":7,"j":23,"v":-0.44},{"i":8,"j":23,"v":-0.54},{"i":9,"j":23,"v":-0.64},{"i":10,"j":23,"v":-0.77},{"i":11,"j":23,"v":-0.88},{"i":12,"j":23,"v":-0.97},{"i":13,"j":23,"v":-0.97},{"i":14,"j":23,"v":-0.88},{"i":15,"j":23,"v":-0.77},{"i":16,"j":23,"v":-0.64},{"i":17,"j":23,"v":-0.54},{"i":18,"j":23,"v":-0.44},{"i":19,"j":23,"v":-0.35},{"i":20,"j":23,"v":-0.27},{"i":21,"j":23,"v":-0.2},{"i":22,"j":23,"v":-0.13},{"i":23,"j":23,"v":-0.08},{"i":24,"j":23,"v":-0.04},{"i":25,"j":23,"v":-0.02},
{"i":0,"j":24,"v":-0.02},{"i":1,"j":24,"v":-0.04},{"i":2,"j":24,"v":-0.08},{"i":3,"j":24,"v":-0.13},{"i":4,"j":24,"v":-0.19},{"i":5,"j":24,"v":-0.26},{"i":6,"j":24,"v":-0.34},{"i":7,"j":24,"v":-0.42},{"i":8,"j":24,"v":-0.52},{"i":9,"j":24,"v":-0.61},{"i":10,"j":24,"v":-0.74},{"i":11,"j":24,"v":-0.84},{"i":12,"j":24,"v":-0.93},{"i":13,"j":24,"v":-0.93},{"i":14,"j":24,"v":-0.84},{"i":15,"j":24,"v":-0.74},{"i":16,"j":24,"v":-0.61},{"i":17,"j":24,"v":-0.52},{"i":18,"j":24,"v":-0.42},{"i":19,"j":24,"v":-0.34},{"i":20,"j":24,"v":-0.26},{"i":21,"j":24,"v":-0.19},{"i":22,"j":24,"v":-0.13},{"i":23,"j":24,"v":-0.08},{"i":24,"j":24,"v":-0.04},{"i":25,"j":24,"v":-0.02},
{"i":0,"j":25,"v":-0.02},{"i":1,"j":25,"v":-0.04},{"i":2,"j":25,"v":-0.07},{"i":3,"j":25,"v":-0.12},{"i":4,"j":25,"v":-0.17},{"i":5,"j":25,"v":-0.24},{"i":6,"j":25,"v":-0.31},{"i":7,"j":25,"v":-0.39},{"i":8,"j":25,"v":-0.47},{"i":9,"j":25,"v":-0.57},{"i":10,"j":25,"v":-0.68},{"i":11,"j":25,"v":-0.77},{"i":12,"j":25,"v":-0.85},{"i":13,"j":25,"v":-0.85},{"i":14,"j":25,"v":-0.77},{"i":15,"j":25,"v":-0.68},{"i":16,"j":25,"v":-0.57},{"i":17,"j":25,"v":-0.47},{"i":18,"j":25,"v":-0.39},{"i":19,"j":25,"v":-0.31},{"i":20,"j":25,"v":-0.24},{"i":21,"j":25,"v":-0.17},{"i":22,"j":25,"v":-0.12},{"i":23,"j":25,"v":-0.07},{"i":24,"j":25,"v":-0.04},{"i":25,"j":25,"v":-0.02},
{"i":0,"j":26,"v":-0.02},{"i":1,"j":26,"v":-0.04},{"i":2,"j":26,"v":-0.07},{"i":3,"j":26,"v":-0.11},{"i":4,"j":26,"v":-0.16},{"i":5,"j":26,"v":-0.22},{"i":6,"j":26,"v":-0.29},{"i":7,"j":26,"v":-0.36},{"i":8,"j":26,"v":-0.44},{"i":9,"j":26,"v":-0.53},{"i":10,"j":26,"v":-0.63},{"i":11,"j":26,"v":-0.72},{"i":12,"j":26,"v":-0.79},{"i":13,"j":26,"v":-0.79},{"i":14,"j":26,"v":-0.72},{"i":15,"j":26,"v":-0.63},{"i":16,"j":26,"v":-0.53},{"i":17,"j":26,"v":-0.44},{"i":18,"j":26,"v":-0.36},{"i":19,"j":26,"v":-0.29},{"i":20,"j":26,"v":-0.22},{"i":21,"j":26,"v":-0.16},{"i":22,"j":26,"v":-0.11},{"i":23,"j":26,"v":-0.07},{"i":24,"j":26,"v":-0.04},{"i":25,"j":26,"v":-0.02},
{"i":0,"j":27,"v":-0.02},{"i":1,"j":27,"v":-0.03},{"i":2,"j":27,"v":-0.06},{"i":3,"j":27,"v":-0.1},{"i":4,"j":27,"v":-0.15},{"i":5,"j":27,"v":-0.21},{"i":6,"j":27,"v":-0.27},{"i":7,"j":27,"v":-0.34},{"i":8,"j":27,"v":-0.41},{"i":9,"j":27,"v":-0.49},{"i":10,"j":27,"v":-0.59},{"i":11,"j":27,"v":-0.67},{"i":12,"j":27,"v":-0.74},{"i":13,"j":27,"v":-0.74},{"i":14,"j":27,"v":-0.67},{"i":15,"j":27,"v":-0.59},{"i":16,"j":27,"v":-0.49},{"i":17,"j":27,"v":-0.41},{"i":18,"j":27,"v":-0.34},{"i":19,"j":27,"v":-0.27},{"i":20,"j":27,"v":-0.21},{"i":21,"j":27,"v":-0.15},{"i":22,"j":27,"v":-0.1},{"i":23,"j":27,"v":-0.06},{"i":24,"j":27,"v":-0.03},{"i":25,"j":27,"v":-0.02}
]
},
"vconcat":[
 {"width":444,"height":30,
  "title":{"text":"γ\u2002=\u20020","offset":12},
  "layer":[
   {"data":{"name":"cbar"},"mark":{"type":"rect","strokeWidth":0.5},
    "encoding":{
     "x":{"field":"c","type":"quantitative","scale":{"domain":[-1.127,1.127],"nice":false,"zero":false},
      "axis":{"orient":"bottom","values":[-1,-0.5,0,0.5,1],"format":"~g","labelFont":"Liberation Serif","labelFontSize":42,"labelColor":"black","labelPadding":29,"labelFlush":false,"labelOverlap":false,"labelBound":false,"domain":false,"ticks":true,"tickColor":"black","tickWidth":1.8,"tickSize":-12,"title":null,"zindex":2,"grid":false}},
     "x2":{"field":"d"},
     "y":{"datum":0,"type":"quantitative","scale":{"domain":[0,1],"nice":false,"zero":false},"axis":null},
     "y2":{"datum":1},
     "fill":{"field":"c","type":"quantitative","scale":{"domain":[-1,-0.8,-0.6,-0.4,-0.2,0,0.2,0.4,0.6,0.8,1],"range":["#67001f","#b2182b","#d6604d","#f4a582","#fddbc7","#ffffff","#d1e5f0","#92c5de","#4393c3","#2166ac","#053061"],"interpolate":"rgb"},"legend":null},
     "stroke":{"field":"c","type":"quantitative","scale":{"domain":[-1,-0.8,-0.6,-0.4,-0.2,0,0.2,0.4,0.6,0.8,1],"range":["#67001f","#b2182b","#d6604d","#f4a582","#fddbc7","#ffffff","#d1e5f0","#92c5de","#4393c3","#2166ac","#053061"],"interpolate":"rgb"},"legend":null}}},
   {"data":{"values":[{"c":-1,"d":1}]},"mark":{"type":"rect","fill":"transparent","stroke":"black","strokeWidth":1.6},
    "encoding":{"x":{"field":"c","type":"quantitative","scale":{"domain":[-1.127,1.127],"nice":false,"zero":false}},"x2":{"field":"d"},
     "y":{"datum":0,"type":"quantitative","scale":{"domain":[0,1],"nice":false,"zero":false},"axis":null},"y2":{"datum":1}}},
   {"data":{"name":"mt"},"mark":{"type":"rule","color":"black","strokeWidth":1.8},
    "encoding":{"x":{"field":"t","type":"quantitative","scale":{"domain":[-1.127,1.127],"nice":false,"zero":false}},
     "y":{"datum":0,"type":"quantitative","scale":{"domain":[0,1],"nice":false,"zero":false},"axis":null},"y2":{"datum":0.2}}}
  ]},
 {"width":444,"height":441,
  "layer":[
   {"data":{"name":"hA"},
    "transform":[{"lookup":"i","from":{"data":{"name":"xs"},"key":"i","fields":["x","x2"]}},{"lookup":"j","from":{"data":{"name":"ys"},"key":"j","fields":["y","y2"]}}],
    "mark":{"type":"rect","strokeWidth":0.6},
    "encoding":{
     "x":{"field":"x","type":"quantitative","scale":{"domain":[-2,2],"nice":false,"zero":false},"axis":{"orient":"bottom","values":[-2,-1.8,-1.6,-1.4,-1.2,-1,-0.8,-0.6,-0.4,-0.2,0,0.2,0.4,0.6,0.8,1,1.2,1.4,1.6,1.8,2],"labels":false,"title":null,"domain":true,"domainColor":"black","domainWidth":1.8,"tickColor":"black","tickWidth":1.8,"tickSize":{"condition":{"test":"abs(datum.value-round(datum.value))<0.001","value":-12},"value":-6},"zindex":2,"grid":false}},
     "x2":{"field":"x2"},
     "y":{"field":"y","type":"quantitative","scale":{"domain":[-2,2],"nice":false,"zero":false},"axis":{"orient":"left","values":[-2,-1.8,-1.6,-1.4,-1.2,-1,-0.8,-0.6,-0.4,-0.2,0,0.2,0.4,0.6,0.8,1,1.2,1.4,1.6,1.8,2],"labels":false,"title":null,"domain":true,"domainColor":"black","domainWidth":1.8,"tickColor":"black","tickWidth":1.8,"tickSize":{"condition":{"test":"abs(datum.value-round(datum.value))<0.001","value":-12},"value":-6},"zindex":2,"grid":false}},
     "y2":{"field":"y2"},
     "fill":{"field":"v","type":"quantitative","scale":{"domain":[-1,-0.8,-0.6,-0.4,-0.2,0,0.2,0.4,0.6,0.8,1],"range":["#67001f","#b2182b","#d6604d","#f4a582","#fddbc7","#ffffff","#d1e5f0","#92c5de","#4393c3","#2166ac","#053061"],"interpolate":"rgb"},"legend":null},
     "stroke":{"field":"v","type":"quantitative","scale":{"domain":[-1,-0.8,-0.6,-0.4,-0.2,0,0.2,0.4,0.6,0.8,1],"range":["#67001f","#b2182b","#d6604d","#f4a582","#fddbc7","#ffffff","#d1e5f0","#92c5de","#4393c3","#2166ac","#053061"],"interpolate":"rgb"},"legend":null}}},
   {"data":{"values":[{}]},"mark":{"type":"rule","color":"black","strokeWidth":3.5,"strokeDash":[7.3,5.2]},
    "encoding":{
     "x":{"datum":0,"type":"quantitative","scale":{"domain":[-2,2],"nice":false,"zero":false},"axis":{"orient":"top","values":[-2,-1.8,-1.6,-1.4,-1.2,-1,-0.8,-0.6,-0.4,-0.2,0,0.2,0.4,0.6,0.8,1,1.2,1.4,1.6,1.8,2],"labels":false,"title":null,"domain":true,"domainColor":"black","domainWidth":1.8,"tickColor":"black","tickWidth":1.8,"tickSize":{"condition":{"test":"abs(datum.value-round(datum.value))<0.001","value":-12},"value":-6},"zindex":2,"grid":false}},
     "y":{"datum":-2,"type":"quantitative","scale":{"domain":[-2,2],"nice":false,"zero":false},"axis":{"orient":"right","values":[-2,-1.8,-1.6,-1.4,-1.2,-1,-0.8,-0.6,-0.4,-0.2,0,0.2,0.4,0.6,0.8,1,1.2,1.4,1.6,1.8,2],"labels":false,"title":null,"domain":true,"domainColor":"black","domainWidth":1.8,"tickColor":"black","tickWidth":1.8,"tickSize":{"condition":{"test":"abs(datum.value-round(datum.value))<0.001","value":-12},"value":-6},"zindex":2,"grid":false}},
     "y2":{"datum":2}}},
   {"data":{"values":[{"x":0.838,"y":-0.893,"x2":0.838,"y2":-0.31},{"x":0.838,"y":-0.893,"x2":1.42,"y2":-0.893}]},
    "mark":{"type":"rule","color":"black","strokeWidth":3.3,"strokeCap":"square"},
    "encoding":{"x":{"field":"x","type":"quantitative","scale":{"domain":[-2,2],"nice":false,"zero":false},"axis":null},"x2":{"field":"x2"},"y":{"field":"y","type":"quantitative","scale":{"domain":[-2,2],"nice":false,"zero":false},"axis":null},"y2":{"field":"y2"}}},
   {"data":{"values":[{"x":0.838,"y":-0.236}]},
    "mark":{"type":"point","shape":"triangle-up","filled":true,"color":"black","size":290,"opacity":1},
    "encoding":{"x":{"field":"x","type":"quantitative","scale":{"domain":[-2,2],"nice":false,"zero":false},"axis":null},"y":{"field":"y","type":"quantitative","scale":{"domain":[-2,2],"nice":false,"zero":false},"axis":null}}},
   {"data":{"values":[{"x":1.491,"y":-0.893}]},
    "mark":{"type":"point","shape":"triangle-right","filled":true,"color":"black","size":290,"opacity":1},
    "encoding":{"x":{"field":"x","type":"quantitative","scale":{"domain":[-2,2],"nice":false,"zero":false},"axis":null},"y":{"field":"y","type":"quantitative","scale":{"domain":[-2,2],"nice":false,"zero":false},"axis":null}}},
   {"data":{"values":[{"x":0.649,"y":-0.104,"t":"y"},{"x":1.595,"y":-1.156,"t":"x"}]},
    "mark":{"type":"text","font":"Liberation Serif","fontSize":40,"fontStyle":"italic","color":"black","align":"center","baseline":"alphabetic"},
    "encoding":{"x":{"field":"x","type":"quantitative","scale":{"domain":[-2,2],"nice":false,"zero":false},"axis":null},"y":{"field":"y","type":"quantitative","scale":{"domain":[-2,2],"nice":false,"zero":false},"axis":null},"text":{"field":"t"}}},
   {"data":{"values":[{"x":-1.703,"y":1.5,"t":"(a)"}]},
    "mark":{"type":"text","font":"Liberation Serif","fontSize":46,"color":"black","align":"left","baseline":"middle"},
    "encoding":{"x":{"field":"x","type":"quantitative","scale":{"domain":[-2,2],"nice":false,"zero":false},"axis":null},"y":{"field":"y","type":"quantitative","scale":{"domain":[-2,2],"nice":false,"zero":false},"axis":null},"text":{"field":"t"}}}
  ],
  "resolve":{"axis":{"x":"independent","y":"independent"}}},
 {"width":444,"height":71,
  "title":{"text":"γ\u2002≠\u20020","offset":-28},
  "layer":[
   {"data":{"name":"cbar"},"mark":{"type":"rect","strokeWidth":0.5},
    "encoding":{
     "x":{"field":"c","type":"quantitative","scale":{"domain":[-1.127,1.127],"nice":false,"zero":false},
      "axis":{"orient":"bottom","values":[-1,-0.5,0,0.5,1],"format":"~g","labelFont":"Liberation Serif","labelFontSize":42,"labelColor":"black","labelPadding":29,"labelFlush":false,"labelOverlap":false,"labelBound":false,"domain":false,"ticks":true,"tickColor":"black","tickWidth":1.8,"tickSize":-12,"title":null,"zindex":2,"grid":false}},
     "x2":{"field":"d"},
     "y":{"datum":0,"type":"quantitative","scale":{"domain":[0,2.3667],"nice":false,"zero":false},"axis":null},
     "y2":{"datum":1},
     "fill":{"field":"c","type":"quantitative","scale":{"domain":[-1,-0.8,-0.6,-0.4,-0.2,0,0.2,0.4,0.6,0.8,1],"range":["#67001f","#b2182b","#d6604d","#f4a582","#fddbc7","#ffffff","#d1e5f0","#92c5de","#4393c3","#2166ac","#053061"],"interpolate":"rgb"},"legend":null},
     "stroke":{"field":"c","type":"quantitative","scale":{"domain":[-1,-0.8,-0.6,-0.4,-0.2,0,0.2,0.4,0.6,0.8,1],"range":["#67001f","#b2182b","#d6604d","#f4a582","#fddbc7","#ffffff","#d1e5f0","#92c5de","#4393c3","#2166ac","#053061"],"interpolate":"rgb"},"legend":null}}},
   {"data":{"values":[{"c":-1,"d":1}]},"mark":{"type":"rect","fill":"transparent","stroke":"black","strokeWidth":1.6},
    "encoding":{"x":{"field":"c","type":"quantitative","scale":{"domain":[-1.127,1.127],"nice":false,"zero":false}},"x2":{"field":"d"},
     "y":{"datum":0,"type":"quantitative","scale":{"domain":[0,2.3667],"nice":false,"zero":false},"axis":null},"y2":{"datum":1}}},
   {"data":{"name":"mt"},"mark":{"type":"rule","color":"black","strokeWidth":1.8},
    "encoding":{"x":{"field":"t","type":"quantitative","scale":{"domain":[-1.127,1.127],"nice":false,"zero":false}},
     "y":{"datum":0,"type":"quantitative","scale":{"domain":[0,2.3667],"nice":false,"zero":false},"axis":null},"y2":{"datum":0.2}}}
  ]},
 {"width":444,"height":438,
  "layer":[
   {"data":{"name":"hB"},
    "transform":[{"lookup":"i","from":{"data":{"name":"xs"},"key":"i","fields":["x","x2"]}},{"lookup":"j","from":{"data":{"name":"ys"},"key":"j","fields":["y","y2"]}}],
    "mark":{"type":"rect","strokeWidth":0.6},
    "encoding":{
     "x":{"field":"x","type":"quantitative","scale":{"domain":[-2,2],"nice":false,"zero":false},"axis":{"orient":"bottom","values":[-2,-1.8,-1.6,-1.4,-1.2,-1,-0.8,-0.6,-0.4,-0.2,0,0.2,0.4,0.6,0.8,1,1.2,1.4,1.6,1.8,2],"labels":false,"title":null,"domain":true,"domainColor":"black","domainWidth":1.8,"tickColor":"black","tickWidth":1.8,"tickSize":{"condition":{"test":"abs(datum.value-round(datum.value))<0.001","value":-12},"value":-6},"zindex":2,"grid":false}},
     "x2":{"field":"x2"},
     "y":{"field":"y","type":"quantitative","scale":{"domain":[-2,2],"nice":false,"zero":false},"axis":{"orient":"left","values":[-2,-1.8,-1.6,-1.4,-1.2,-1,-0.8,-0.6,-0.4,-0.2,0,0.2,0.4,0.6,0.8,1,1.2,1.4,1.6,1.8,2],"labels":false,"title":null,"domain":true,"domainColor":"black","domainWidth":1.8,"tickColor":"black","tickWidth":1.8,"tickSize":{"condition":{"test":"abs(datum.value-round(datum.value))<0.001","value":-12},"value":-6},"zindex":2,"grid":false}},
     "y2":{"field":"y2"},
     "fill":{"field":"v","type":"quantitative","scale":{"domain":[-1,-0.8,-0.6,-0.4,-0.2,0,0.2,0.4,0.6,0.8,1],"range":["#67001f","#b2182b","#d6604d","#f4a582","#fddbc7","#ffffff","#d1e5f0","#92c5de","#4393c3","#2166ac","#053061"],"interpolate":"rgb"},"legend":null},
     "stroke":{"field":"v","type":"quantitative","scale":{"domain":[-1,-0.8,-0.6,-0.4,-0.2,0,0.2,0.4,0.6,0.8,1],"range":["#67001f","#b2182b","#d6604d","#f4a582","#fddbc7","#ffffff","#d1e5f0","#92c5de","#4393c3","#2166ac","#053061"],"interpolate":"rgb"},"legend":null}}},
   {"data":{"values":[{}]},"mark":{"type":"rule","color":"black","strokeWidth":3.5,"strokeDash":[7.3,5.2]},
    "encoding":{
     "x":{"datum":0,"type":"quantitative","scale":{"domain":[-2,2],"nice":false,"zero":false},"axis":{"orient":"top","values":[-2,-1.8,-1.6,-1.4,-1.2,-1,-0.8,-0.6,-0.4,-0.2,0,0.2,0.4,0.6,0.8,1,1.2,1.4,1.6,1.8,2],"labels":false,"title":null,"domain":true,"domainColor":"black","domainWidth":1.8,"tickColor":"black","tickWidth":1.8,"tickSize":{"condition":{"test":"abs(datum.value-round(datum.value))<0.001","value":-12},"value":-6},"zindex":2,"grid":false}},
     "y":{"datum":-2,"type":"quantitative","scale":{"domain":[-2,2],"nice":false,"zero":false},"axis":{"orient":"right","values":[-2,-1.8,-1.6,-1.4,-1.2,-1,-0.8,-0.6,-0.4,-0.2,0,0.2,0.4,0.6,0.8,1,1.2,1.4,1.6,1.8,2],"labels":false,"title":null,"domain":true,"domainColor":"black","domainWidth":1.8,"tickColor":"black","tickWidth":1.8,"tickSize":{"condition":{"test":"abs(datum.value-round(datum.value))<0.001","value":-12},"value":-6},"zindex":2,"grid":false}},
     "y2":{"datum":2}}},
   {"data":{"values":[{"x":-1.667,"y":1.49,"t":"(b)"}]},
    "mark":{"type":"text","font":"Liberation Serif","fontSize":46,"color":"black","align":"left","baseline":"middle"},
    "encoding":{"x":{"field":"x","type":"quantitative","scale":{"domain":[-2,2],"nice":false,"zero":false},"axis":null},"y":{"field":"y","type":"quantitative","scale":{"domain":[-2,2],"nice":false,"zero":false},"axis":null},"text":{"field":"t"}}}
  ],
  "resolve":{"axis":{"x":"independent","y":"independent"}}}
],
"spacing":78,
"bounds":"flush",
"resolve":{"scale":{"x":"independent","y":"independent","fill":"independent","stroke":"independent"}}
}
